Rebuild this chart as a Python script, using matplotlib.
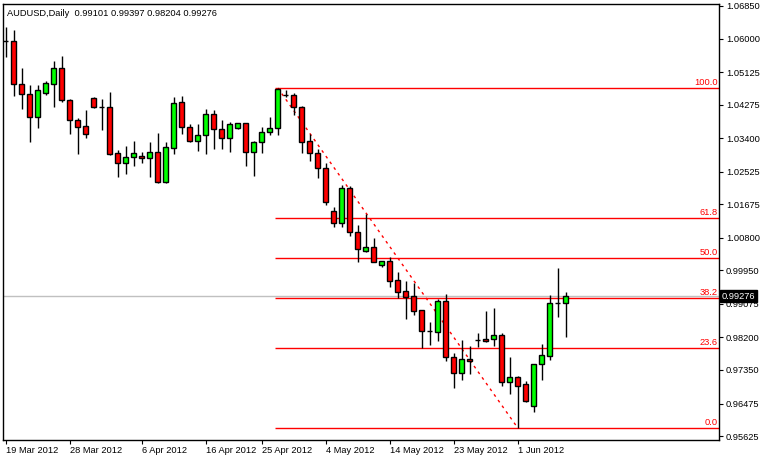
import matplotlib
matplotlib.use("Agg")
import matplotlib.pyplot as plt
import numpy as np

opens = [1.05937,1.05937,1.04815,1.04554,1.03953,1.04580,1.04815,1.05232,1.04397,1.03875,
         1.03718,1.04449,1.04214,1.04214,1.03014,1.02753,1.02909,1.02935,1.02883,1.03040,
         1.02257,1.03144,1.04345,1.03692,1.03327,1.03483,1.04032,1.03640,1.03405,1.03666,
         1.03797,1.03040,1.03301,1.03562,1.03666,1.04527,1.04527,1.04214,1.03327,1.03014,
         1.02622,1.01500,1.01187,1.02100,1.00952,1.00456,1.00560,1.00090,1.00195,0.99699,
         0.99412,0.99281,0.98916,0.98368,0.98342,0.99151,0.97689,0.97272,0.97637,0.98133,
         0.98159,0.98159,0.98263,0.97037,0.97167,0.96985,0.96410,0.97507,0.97715,0.99099,
         0.99101]
highs = [1.06302,1.06224,1.05232,1.04788,1.04788,1.04893,1.05415,1.05545,1.04423,1.03927,
         1.04136,1.04475,1.04423,1.04606,1.03092,1.03196,1.03327,1.03040,1.03301,1.03536,
         1.03301,1.04475,1.04501,1.03771,1.03771,1.04162,1.04136,1.03875,1.03823,1.03797,
         1.03797,1.03327,1.03692,1.03953,1.04710,1.04658,1.04580,1.04240,1.03510,1.03118,
         1.02753,1.01604,1.02178,1.02152,1.01134,1.01422,1.00795,1.00195,1.00299,0.99908,
         0.99673,0.99621,0.98916,0.98603,0.99203,0.99334,0.97794,0.98133,0.97976,0.98316,
         0.98890,0.98968,0.98316,0.97689,0.97193,0.97063,0.97507,0.98029,0.99307,1.00012,
         0.99397]
lows = [1.05519,1.04501,1.04162,1.03301,1.03666,1.04527,1.04214,1.04345,1.03510,1.02988,
        1.03405,1.04188,1.03614,1.02961,1.02387,1.02466,1.02674,1.02753,1.02387,1.02231,
        1.02231,1.02988,1.03510,1.03301,1.03066,1.02988,1.03118,1.03118,1.03040,1.03640,
        1.02674,1.02413,1.03014,1.03483,1.03483,1.04475,1.04005,1.03014,1.02805,1.02361,
        1.01656,1.01082,1.01082,1.00847,1.00169,1.00430,1.00169,1.00038,0.99516,0.99229,
        0.98681,0.98785,0.97924,0.98002,0.98107,0.97585,0.96880,0.97089,0.97246,0.97950,
        0.98081,0.97976,0.96932,0.96724,0.95836,0.96515,0.96254,0.97089,0.97611,0.98733,
        0.98204]
closes = [1.05937,1.04815,1.04554,1.03953,1.04658,1.04841,1.05232,1.04397,1.03875,1.03692,
          1.03510,1.04214,1.04214,1.02988,1.02753,1.02909,1.03014,1.02883,1.03040,1.02257,
          1.03170,1.04319,1.03692,1.03327,1.03483,1.04032,1.03640,1.03405,1.03771,1.03797,
          1.03040,1.03301,1.03562,1.03666,1.04684,1.04527,1.04214,1.03301,1.03014,1.02622,
          1.01735,1.01187,1.02100,1.00952,1.00508,1.00560,1.00169,1.00195,0.99673,0.99386,
          0.99255,0.98890,0.98368,0.98368,0.99151,0.97689,0.97272,0.97637,0.97585,0.98133,
          0.98107,0.98263,0.97037,0.97167,0.96932,0.96541,0.97507,0.97741,0.99099,0.99099,
          0.99276]
date_labels = ["19 Mar 2012","28 Mar 2012","6 Apr 2012","16 Apr 2012","25 Apr 2012",
               "4 May 2012","14 May 2012","23 May 2012","1 Jun 2012"]
date_bars = [0, 8, 17, 25, 32, 40, 48, 56, 64]
yticks = [1.06850,1.06000,1.05125,1.04275,1.03400,1.02525,1.01675,1.00800,0.99950,
          0.99075,0.98200,0.97350,0.96475,0.95625]
fib_levels = [0.0, 23.6, 38.2, 50.0, 61.8, 100.0]
fib_start_bar, fib_end_bar = 34, 64
fib_high, fib_low = 1.04710, 0.95836

plt.rcParams['font.family'] = ['Liberation Sans', 'DejaVu Sans']
FS = 6.7
fig = plt.figure(figsize=(7.61, 4.59), dpi=100)
ax = fig.add_axes([3/761, 1-440/459, 716/761, 436/459])
n = len(opens)
x = np.arange(n)
ax.set_xlim(-0.35, 716/8 - 0.35)
ax.set_ylim(0.95523, 1.06902)

for lv in fib_levels:
    p = fib_low + (fib_high - fib_low) * lv / 100
    ax.hlines(p, fib_start_bar - 0.3, ax.get_xlim()[1], color='#ff0000', lw=1, zorder=1)
    ax.text(0.998, p + 0.0003, f"{lv:.1f}", transform=ax.get_yaxis_transform(),
            ha='right', va='bottom', color='#ff0000', fontsize=FS)
ax.plot([fib_start_bar, fib_end_bar], [fib_high, fib_low], color='#ff0000', lw=1,
        ls=(0, (2, 3)), zorder=1)
ax.axhline(closes[-1], color='#c0c0c0', lw=1, zorder=0.5)

for i in range(n):
    o, h, l, c = opens[i], highs[i], lows[i], closes[i]
    ax.vlines(x[i], l, h, color='black', lw=1, zorder=2)
    if abs(c - o) < 1e-6:
        ax.hlines(o, x[i]-0.3, x[i]+0.3, color='black', lw=1, zorder=3)
    else:
        col = '#00ff00' if c > o else '#ff0000'
        ax.bar(x[i], abs(c-o), bottom=min(o, c), width=0.62, color=col,
               edgecolor='black', lw=1, zorder=3)

ax.yaxis.tick_right()
ax.set_yticks(yticks)
ax.set_yticklabels([f"{t:.5f}" for t in yticks], fontsize=FS)
ax.tick_params(axis='y', length=3, pad=2)
ax.set_xticks(date_bars)
ax.set_xticklabels(date_labels, fontsize=FS, ha='left')
ax.tick_params(axis='x', length=3, pad=1)
ax.text(1.004, closes[-1], f"{closes[-1]:.5f}", transform=ax.get_yaxis_transform(),
        ha='left', va='center', fontsize=FS, color='white',
        bbox=dict(boxstyle='square,pad=0.15', fc='black', ec='black'), zorder=5, clip_on=False)
ax.text(0.006, 0.988, "AUDUSD,Daily  0.99101 0.99397 0.98204 0.99276", transform=ax.transAxes,
        ha='left', va='top', fontsize=FS)
for s in ax.spines.values():
    s.set_linewidth(1)
fig.savefig("out.png", dpi=100)
